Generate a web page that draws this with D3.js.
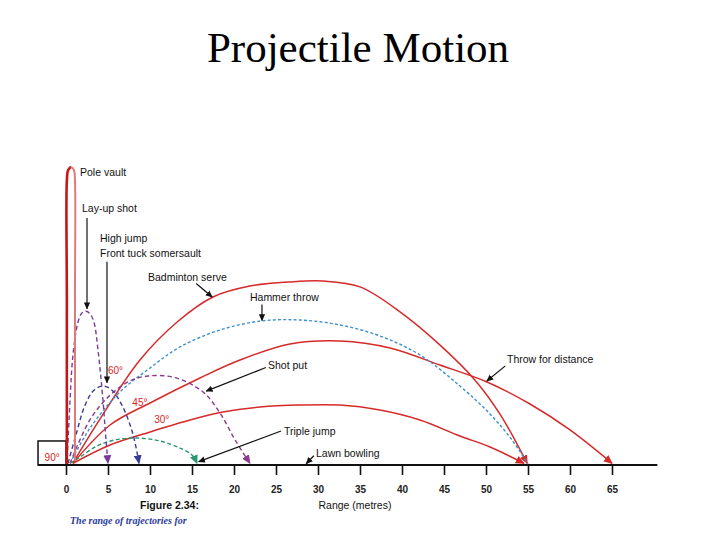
<!DOCTYPE html>
<html>
<head>
<meta charset="utf-8">
<script src="https://cdn.jsdelivr.net/npm/d3@7"></script>
<style>
  html, body { margin: 0; padding: 0; background: #fff; }
  svg { display: block; }
  .title { font-family: "Liberation Serif", "Times New Roman", serif; font-size: 43px; fill: #000; }
  .note { font-family: "Liberation Sans", Arial, sans-serif; font-size: 10.5px; fill: #111; }
  .angle { font-family: "Liberation Sans", Arial, sans-serif; font-size: 10px; fill: #d42525; }
  .tick text { font-family: "Liberation Sans", Arial, sans-serif; font-size: 10px; font-weight: bold; fill: #222; }
  .caption { font-family: "Liberation Sans", Arial, sans-serif; font-size: 10.5px; font-weight: bold; fill: #111; }
  .subcaption { font-family: "Liberation Serif", "Times New Roman", serif; font-size: 10px; font-weight: bold; font-style: italic; fill: #2a3a9a; }
</style>
</head>
<body>
<svg id="chart" width="720" height="540"></svg>
<script>
// trajectories, [range m, height m]
const poleVaultUp = [[0.1, 0], [0.1, 20], [0.1, 33.8], [0.25, 35.1], [0.6, 35.5]];
const poleVaultDown = [[0.6, 35.5], [0.95, 35.1], [1.07, 33.8], [1.07, 20], [1.07, 0.5]];
const layUpShot = [[0.12, 0], [0.48, 7.7], [0.83, 13.1], [1.43, 17.0], [1.9, 18.1], [2.38, 18.3], [2.86, 18.0], [3.33, 17.0], [3.81, 13.7], [4.4, 7.7], [4.76, 3.0], [5.0, 0.2]];
const highJump = [[0.24, 0.2], [1.19, 3.6], [2.26, 7.1], [3.33, 8.9], [4.4, 9.4], [5.48, 8.9], [6.67, 7.1], [7.62, 4.8], [8.21, 2.7], [8.69, 0.2]];
const shotPut = [[0.48, 0.2], [2.86, 5.4], [5.24, 8.3], [7.62, 10.0], [9.76, 10.6], [12.98, 10.4], [16.31, 8.7], [18.33, 6.2], [20.12, 3.0], [21.9, 0.2]];
const tripleJump = [[0.48, 0.2], [1.67, 0.95], [3.69, 2.26], [5.83, 2.98], [8.45, 3.21], [11.19, 2.86], [13.57, 2.02], [15.0, 1.19], [15.6, 0.2]];
const hammerThrow = [[0.48, 0.2], [2.86, 4.4], [6.43, 8.7], [10.0, 11.55], [13.57, 14.05], [18.33, 16.07], [23.21, 17.14], [27.86, 17.26], [32.62, 16.67], [37.38, 15.36], [42.14, 13.1], [46.9, 9.4], [50.48, 6.07], [53.1, 2.98], [55.0, 0.1]];
const badmintonServe = [[0.8, 0.2], [4.0, 5.4], [8.8, 12.5], [13.2, 17.0], [17.5, 20.0], [21.9, 21.3], [26.7, 21.8], [30.6, 21.9], [35.0, 21.2], [39.8, 18.2], [44.5, 14.3], [48.7, 10.1], [51.7, 6.0], [54.9, 0.2]];
const throwForDistance = [[0.83, 0.2], [5.24, 4.76], [10.0, 7.38], [15.95, 10.36], [20.71, 12.5], [26.67, 14.4], [32.62, 14.76], [38.57, 13.93], [44.52, 11.9], [50.12, 9.88], [55.24, 7.26], [60.0, 4.17], [65.0, 0.2]];
const thirtyDegree = [[0.83, 0.2], [5.24, 2.38], [10.0, 3.93], [14.76, 5.36], [18.69, 6.31], [23.1, 6.9], [27.86, 7.14], [32.62, 7.14], [37.38, 6.55], [42.14, 5.36], [46.9, 3.45], [50.48, 2.14], [54.52, 0.2]];

const tickValues = [0, 5, 10, 15, 20, 25, 30, 35, 40, 45, 50, 55, 60, 65];

const noteLabels = [
  { text: "Pole vault", at: [1.67, 34.9] },
  { text: "Lay-up shot", at: [1.9, 30.6] },
  { text: "High jump", at: [4.05, 27.0] },
  { text: "Front tuck somersault", at: [4.05, 25.2] },
  { text: "Badminton serve", at: [9.76, 22.4] },
  { text: "Hammer throw", at: [21.9, 20.0] },
  { text: "Shot put", at: [24.05, 11.9] },
  { text: "Throw for distance", at: [52.5, 12.6] },
  { text: "Triple jump", at: [25.95, 4.05] },
  { text: "Lawn bowling", at: [29.76, 1.43] }
];
const pointers = [
  [[2.5, 29.4], [2.5, 18.6]],
  [[4.88, 24.2], [4.88, 9.8]],
  [[15.5, 21.6], [17.4, 20.0]],
  [[23.33, 19.1], [23.33, 17.2]],
  [[23.8, 11.6], [16.7, 8.8]],
  [[52.3, 11.8], [50.1, 10.0]],
  [[25.6, 4.05], [15.8, 0.4]],
  [[29.5, 1.1], [28.6, 0.15]]
];
const angleLabels = [
  { text: "60°", at: [5.0, 11.2] },
  { text: "45°", at: [7.9, 7.4] },
  { text: "30°", at: [10.5, 5.4] },
  { text: "90°", at: [-2.55, 0.95] }
];

const RED = "#d62a2a";
const trajectories = [
  { points: badmintonServe, color: RED, dash: null, width: 1.5, arrow: true },
  { points: throwForDistance, color: RED, dash: null, width: 1.5, arrow: true },
  { points: thirtyDegree, color: RED, dash: null, width: 1.5, arrow: true },
  { points: hammerThrow, color: "#3d8fce", dash: "3,2.2", width: 1.4, arrow: false },
  { points: shotPut, color: "#8e3a86", dash: "4.5,3", width: 1.4, arrow: true },
  { points: tripleJump, color: "#26986c", dash: "4,2.5", width: 1.4, arrow: true },
  { points: highJump, color: "#3a3c9c", dash: "4.5,3", width: 1.4, arrow: true },
  { points: layUpShot, color: "#7a3c9c", dash: "4.5,3", width: 1.4, arrow: true },
  { points: poleVaultUp, color: "#c81414", dash: null, width: 2.6, arrow: false },
  { points: poleVaultDown, color: "#e07a7a", dash: null, width: 2, arrow: false }
];

const svg = d3.select("#chart");
const x = d3.scaleLinear().domain([0, 65]).range([66, 612]);
const y = d3.scaleLinear().domain([0, 40]).range([465, 129]);

svg.append("text")
  .attr("class", "title")
  .attr("x", 358)
  .attr("y", 62)
  .attr("text-anchor", "middle")
  .text("Projectile Motion");

const defs = svg.append("defs");

function addMarker(id, color, size) {
  defs.append("marker")
    .attr("id", id)
    .attr("viewBox", "0 -5 10 10")
    .attr("refX", 9)
    .attr("refY", 0)
    .attr("markerUnits", "userSpaceOnUse")
    .attr("markerWidth", size)
    .attr("markerHeight", size)
    .attr("orient", "auto")
    .append("path")
    .attr("d", "M0,-4.5L10,0L0,4.5Z")
    .attr("fill", color);
}

trajectories.forEach((item, index) => {
  if (item.arrow) {
    addMarker(`arrow-${index}`, item.color, 9);
  }
});
addMarker("pointer", "#111", 7);

// 90 degree box
svg.append("rect")
  .attr("x", x(-3.33))
  .attr("y", y(2.86))
  .attr("width", x(0) - x(-3.33))
  .attr("height", y(0) - y(2.86))
  .attr("fill", "none")
  .attr("stroke", "#111")
  .attr("stroke-width", 1.5);

const line = d3.line()
  .x((d) => x(d[0]))
  .y((d) => y(d[1]))
  .curve(d3.curveCatmullRom.alpha(0.5));

svg.append("g")
  .selectAll("path")
  .data(trajectories)
  .join("path")
  .attr("d", (item) => line(item.points))
  .attr("fill", "none")
  .attr("stroke", (item) => item.color)
  .attr("stroke-width", (item) => item.width)
  .attr("stroke-dasharray", (item) => item.dash)
  .attr("marker-end", (item, index) => item.arrow ? `url(#arrow-${index})` : null);

// axis
svg.append("line")
  .attr("x1", x(-3.33))
  .attr("x2", x(70.4))
  .attr("y1", y(0))
  .attr("y2", y(0))
  .attr("stroke", "#111")
  .attr("stroke-width", 2);

const axis = svg.append("g")
  .attr("transform", `translate(0,${y(0)})`)
  .call(d3.axisBottom(x).tickValues(tickValues).tickSize(10).tickPadding(11));
axis.select(".domain").remove();
axis.selectAll(".tick line").attr("stroke", "#111").attr("stroke-width", 1.6);

svg.append("g")
  .selectAll("line")
  .data(pointers)
  .join("line")
  .attr("x1", (d) => x(d[0][0]))
  .attr("y1", (d) => y(d[0][1]))
  .attr("x2", (d) => x(d[1][0]))
  .attr("y2", (d) => y(d[1][1]))
  .attr("stroke", "#111")
  .attr("stroke-width", 1.2)
  .attr("marker-end", "url(#pointer)");

svg.append("g")
  .selectAll("text")
  .data(noteLabels)
  .join("text")
  .attr("class", "note")
  .attr("x", (d) => x(d.at[0]))
  .attr("y", (d) => y(d.at[1]))
  .attr("dy", "0.35em")
  .text((d) => d.text);

svg.append("g")
  .selectAll("text")
  .data(angleLabels)
  .join("text")
  .attr("class", "angle")
  .attr("x", (d) => x(d.at[0]))
  .attr("y", (d) => y(d.at[1]))
  .attr("dy", "0.35em")
  .text((d) => d.text);

svg.append("text")
  .attr("class", "caption")
  .attr("x", 140)
  .attr("y", 505)
  .attr("dy", "0.35em")
  .text("Figure 2.34:");

svg.append("text")
  .attr("class", "caption")
  .attr("x", 355)
  .attr("y", 505)
  .attr("dy", "0.35em")
  .attr("text-anchor", "middle")
  .style("font-weight", "normal")
  .text("Range (metres)");

svg.append("text")
  .attr("class", "subcaption")
  .attr("x", 70)
  .attr("y", 520)
  .attr("dy", "0.35em")
  .text("The range of trajectories for");
</script>
</body>
</html>
